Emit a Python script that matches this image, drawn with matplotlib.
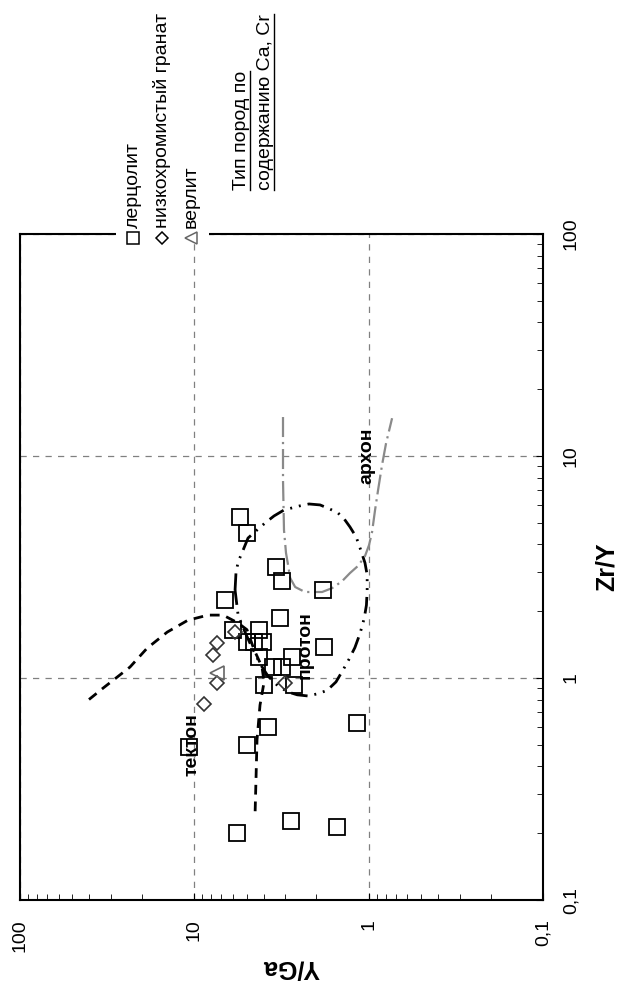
import matplotlib
matplotlib.use('Agg')
import matplotlib.pyplot as plt
from matplotlib.lines import Line2D
from matplotlib.patches import Rectangle
from matplotlib.ticker import FixedLocator, FixedFormatter, LogLocator, NullFormatter

plt.rcParams['font.family'] = ['Liberation Sans', 'DejaVu Sans']

# лерцолит: Y/Ga, Zr/Y
lherz_yga = [5.47, 4.99, 3.40, 3.14, 1.83, 6.66, 3.22, 6.0, 4.25, 4.99, 4.54, 4.03, 1.80,
             4.25, 2.75, 3.54, 3.14, 3.98, 2.68, 3.78, 1.17, 4.99, 10.7, 5.69, 2.79, 1.52]
lherz_zry = [5.31, 4.50, 3.16, 2.73, 2.49, 2.25, 1.86, 1.65, 1.65, 1.45, 1.45, 1.45, 1.38,
             1.24, 1.24, 1.12, 1.12, 0.93, 0.93, 0.60, 0.63, 0.50, 0.49, 0.20, 0.227, 0.213]

# низкохромистый гранат
gar_yga = [5.84, 7.41, 7.81, 7.41, 8.80, 3.02]
gar_zry = [1.61, 1.44, 1.27, 0.95, 0.76, 0.95]

# верлит
wehr_yga = [7.41]
wehr_zry = [1.05]

# boundary lines
tekt_yga = [40.2, 33.4, 23.4, 18.7, 14.3, 10.9, 8.35, 6.84, 5.62, 4.99, 4.54, 4.09, 3.98,
            4.20, 4.37, 4.43, 4.49]
tekt_zry = [0.80, 0.90, 1.12, 1.36, 1.61, 1.82, 1.92, 1.92, 1.77, 1.65, 1.34, 1.12, 0.96,
            0.755, 0.526, 0.347, 0.234]

prot_yga = [5.84, 5.77, 5.61, 5.25, 4.92, 4.37, 3.93, 3.49, 3.06, 2.51, 2.20, 1.90, 1.67,
            1.50, 1.38, 1.28, 1.18, 1.11, 1.05, 1.02, 1.02, 1.03, 1.06, 1.12, 1.20, 1.30,
            1.40, 1.54, 1.73, 1.95, 2.23, 2.57, 2.90, 3.31, 3.78, 4.20, 4.67, 5.12, 5.61, 5.84]
prot_zry = [2.49, 2.97, 3.33, 3.77, 4.27, 4.64, 4.99, 5.37, 5.71, 5.95, 6.08, 6.02, 5.77,
            5.54, 5.20, 4.79, 4.32, 3.77, 3.30, 2.91, 2.49, 2.13, 1.86, 1.59, 1.37, 1.21,
            1.09, 0.96, 0.88, 0.85, 0.83, 0.84, 0.865, 0.92, 1.02, 1.16, 1.37, 1.61, 1.92, 2.49]

arch_yga = [3.10, 3.10, 3.06, 2.98, 2.90, 2.82, 2.64, 2.32, 1.85, 1.62, 1.42, 1.28, 1.15,
            1.05, 0.995, 0.956, 0.919, 0.883, 0.838, 0.795, 0.734]
arch_zry = [14.98, 7.80, 4.64, 3.66, 3.23, 2.82, 2.57, 2.44, 2.44, 2.54, 2.73, 2.97, 3.20,
            3.54, 3.97, 4.55, 5.71, 7.03, 9.11, 11.4, 14.8]

field_names = ['тектон', 'протон', 'архон']
field_yga = [10.3, 2.32, 1.02]
field_zry = [0.50, 1.41, 10.0]

legend_labels = ['лерцолит', 'низкохромистый гранат', 'верлит']
legend_title = ['Тип пород по', 'содержанию Ca, Cr']

W, H = 620, 990


def fx(px):
    return px / W


def fy(py):
    return 1 - py / H


def main():
    fig = plt.figure(figsize=(6.2, 9.9), dpi=100)
    ax = fig.add_axes([fx(20), fy(900), 523 / W, 666 / H])
    ax.set_xscale('log')
    ax.set_yscale('log')
    ax.set_xlim(100, 0.1)
    ax.set_ylim(0.1, 100)

    ax.grid(which='major', linestyle=(0, (5, 5)), color='#808080', linewidth=0.9)
    ax.set_axisbelow(True)

    ax.plot(tekt_yga, tekt_zry, color='black', lw=2, dashes=(3.5, 2.5))
    ax.plot(prot_yga, prot_zry, color='black', lw=2, dashes=(6, 2.5, 0.7, 2.5, 0.7, 2.5))
    ax.plot(arch_yga, arch_zry, color='#8a8a8a', lw=1.6, dashes=(9, 2.2, 1, 2.2))

    ax.plot(lherz_yga, lherz_zry, 's', ms=11.5, mfc='none', mec='black', mew=1.3)
    ax.plot(gar_yga, gar_zry, 'D', ms=7, mfc='none', mec='#333333', mew=1.2)
    ax.plot(wehr_yga, wehr_zry, '<', ms=10, mfc='none', mec='#666666', mew=1.2)

    for name, xv, yv in zip(field_names, field_yga, field_zry):
        ax.text(xv, yv, name, rotation=90, ha='center', va='center',
                fontsize=14, fontweight='bold')

    ax.xaxis.set_major_locator(FixedLocator([100, 10, 1, 0.1]))
    ax.xaxis.set_major_formatter(FixedFormatter(['100', '10', '1', '0,1']))
    ax.xaxis.set_minor_locator(LogLocator(base=10, subs=range(2, 10)))
    ax.xaxis.set_minor_formatter(NullFormatter())
    ax.yaxis.set_major_locator(FixedLocator([0.1, 1, 10, 100]))
    ax.yaxis.set_major_formatter(FixedFormatter(['0,1', '1', '10', '100']))
    ax.yaxis.set_minor_locator(LogLocator(base=10, subs=range(2, 10)))
    ax.yaxis.set_minor_formatter(NullFormatter())

    ax.tick_params(axis='x', which='both', direction='in', bottom=True, top=False,
                   labelrotation=90, pad=14, labelsize=14)
    ax.tick_params(axis='y', which='both', direction='in', left=False, right=True,
                   labelleft=False, labelright=True, labelrotation=90, pad=14, labelsize=14)
    ax.tick_params(which='major', length=5)
    ax.tick_params(which='minor', length=4)
    plt.setp(ax.get_yticklabels(), va='center')
    for sp in ax.spines.values():
        sp.set_linewidth(1.5)

    fig.text(fx(291), fy(968), 'Y/Ga', rotation=180, ha='center', va='center',
             fontsize=18, fontweight='bold')
    fig.text(fx(607), fy(567), 'Zr/Y', rotation=90, ha='center', va='center',
             fontsize=18, fontweight='bold')

    # legend, drawn rotated along the top spine
    fig.add_artist(Rectangle((fx(116), fy(242)), 93 / W, 14 / H, transform=fig.transFigure,
                             facecolor='white', edgecolor='none', zorder=1))
    marks = [('s', 'black', 9), ('D', 'black', 6), ('<', '#666666', 9)]
    for (m, c, s), lab, px in zip(marks, legend_labels, [133, 162, 191]):
        fig.add_artist(Line2D([fx(px)], [fy(238)], marker=m, ms=s, mfc='none', mec=c,
                              mew=1.1, transform=fig.transFigure, zorder=3))
        fig.text(fx(px), fy(228), lab, rotation=90, rotation_mode='anchor',
                 ha='left', va='center', fontsize=14)

    titles = []
    for lab, px in zip(legend_title, [242, 266]):
        titles.append(fig.text(fx(px), fy(190), lab, rotation=90, rotation_mode='anchor',
                               ha='left', va='center', fontsize=14))
    fig.canvas.draw()
    for t in titles:
        bb = t.get_window_extent()
        fig.add_artist(Line2D([bb.x1 - 1, bb.x1 - 1], [bb.y0, bb.y1], color='black',
                              lw=1, transform=None))

    fig.savefig('out.png', dpi=100)


if __name__ == '__main__':
    main()
